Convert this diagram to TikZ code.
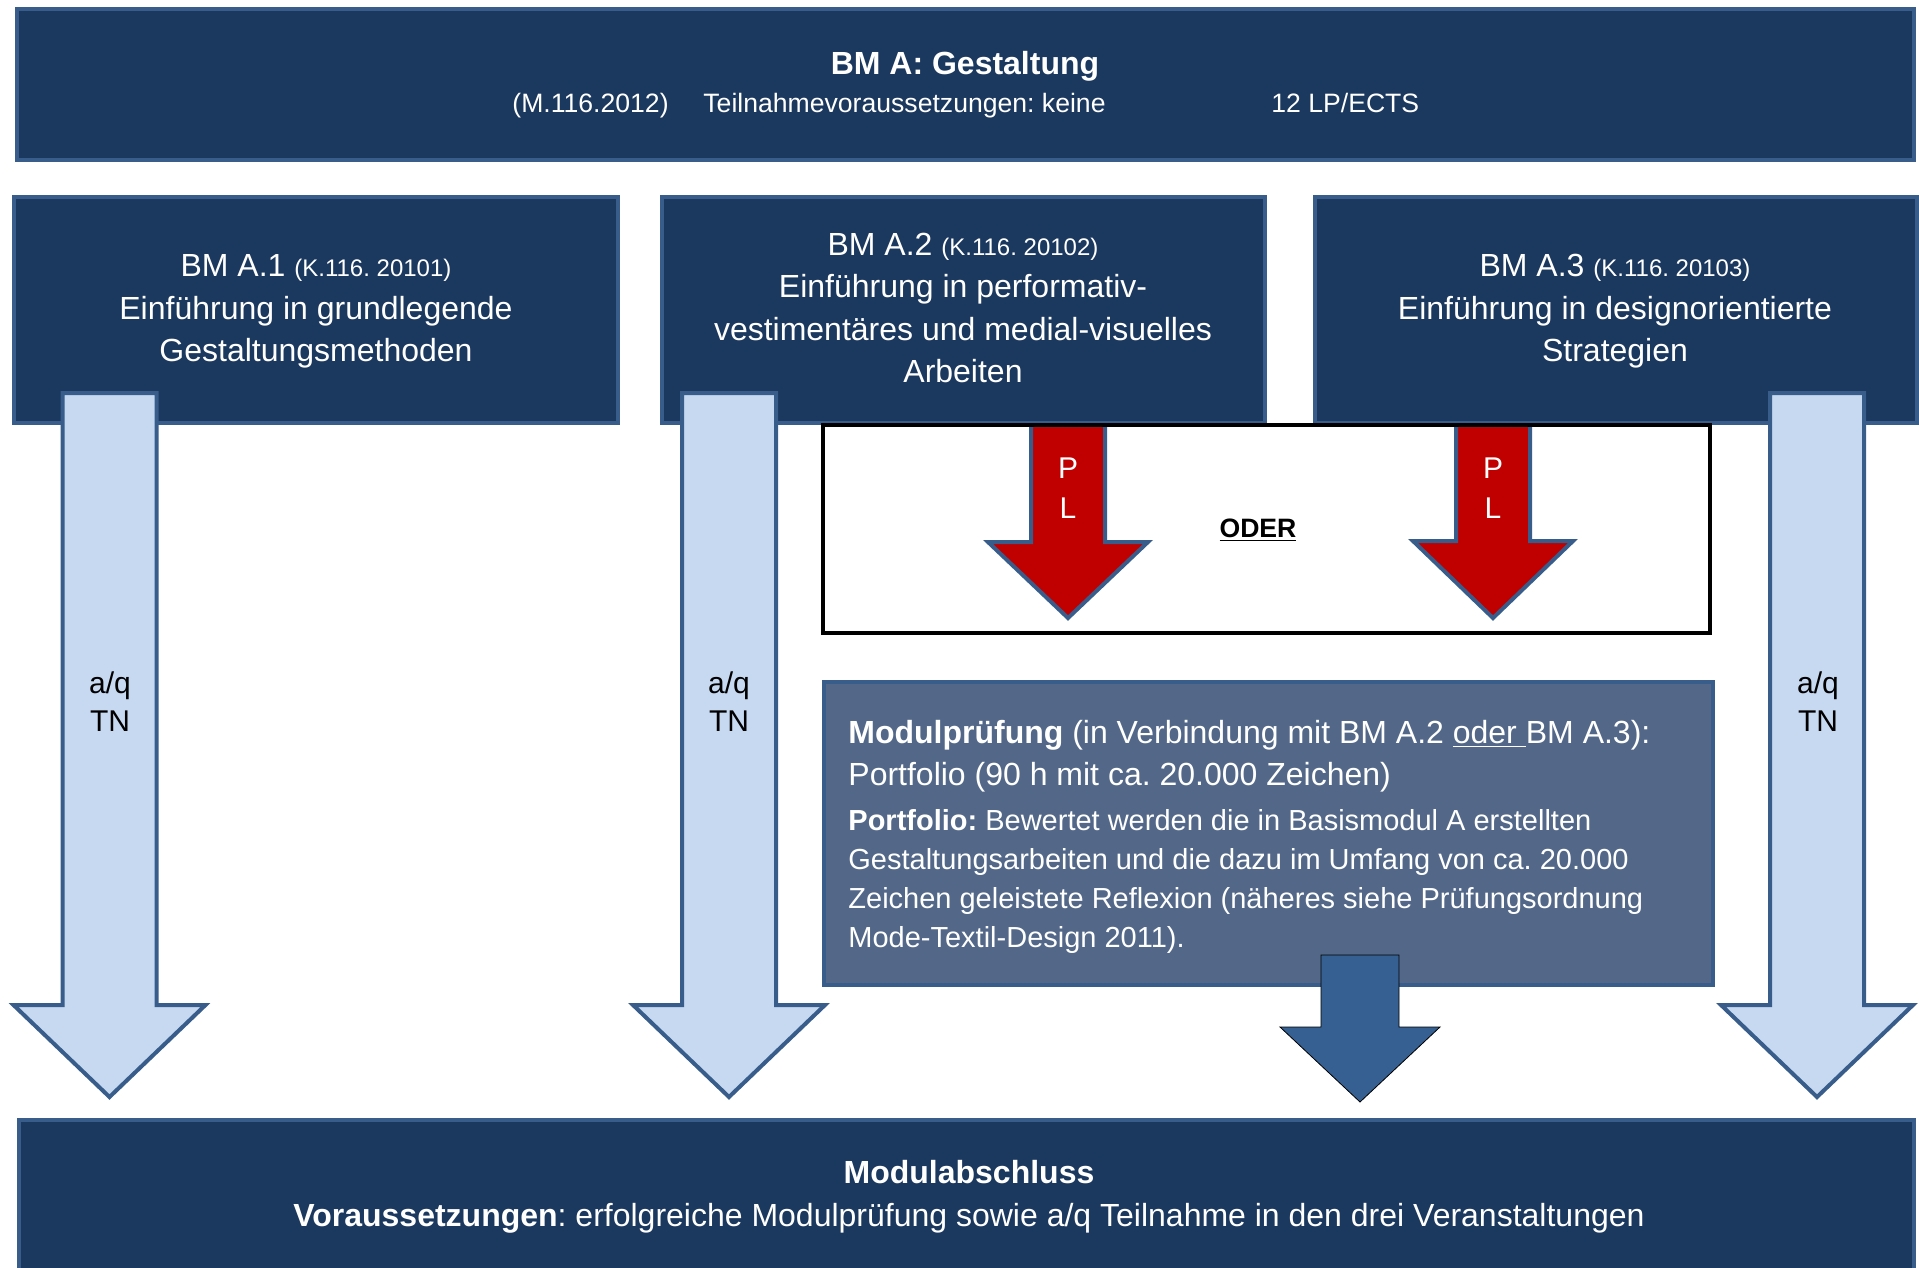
\documentclass[tikz,border=0pt]{standalone}
\usepackage{fontspec}
\setmainfont{Liberation Sans}
\usetikzlibrary{fit}
\frenchspacing
\definecolor{navy}{RGB}{27,56,94}
\definecolor{edgeblue}{RGB}{56,93,138}
\definecolor{palefill}{RGB}{198,217,241}
\definecolor{pdred}{RGB}{192,0,0}
\definecolor{slate}{RGB}{83,104,136}
\definecolor{arrowblue}{RGB}{54,96,146}
\newcommand\fsbig{\fontsize{16}{21}\selectfont}
\newcommand\fsmid{\fontsize{15}{19}\selectfont}
\newcommand\fstext{\fontsize{14.5}{19}\selectfont}
\newcommand\fshead{\fontsize{13.3}{17}\selectfont}
\newcommand\fscode{\fontsize{12}{15}\selectfont}
% style, tip name, cx, shaft half width, head half width, y top, y head, y tip
\newcommand\blockarrow[8]{%
  \draw[#1] ({#3-#4},#6) -- ({#3+#4},#6) -- ({#3+#4},#7) -- ({#3+#5},#7)
    -- (#3,#8) -- ({#3-#5},#7) -- ({#3-#4},#7) -- cycle;
  \coordinate (#2) at (#3,#8);}
\begin{document}
\frenchspacing
\begin{tikzpicture}[x=0.5pt,y=-0.5pt,
  navybox/.style={draw=edgeblue,line width=2pt,fill=navy,inner sep=0pt},
  slatebox/.style={draw=edgeblue,line width=2pt,fill=slate,inner sep=0pt},
  oderfill/.style={fill=white,inner sep=0pt},
  oderframe/.style={draw=black,line width=2pt},
  palearrow/.style={draw=edgeblue,line width=2pt,fill=palefill},
  redarrow/.style={draw=edgeblue,line width=2pt,fill=pdred},
  darkarrow/.style={fill=arrowblue},
  wtxt/.style={text=white,inner sep=0pt,anchor=base},
  wleft/.style={text=white,inner sep=0pt,anchor=base west},
  ktxt/.style={text=black,inner sep=0pt,anchor=base}]
\useasboundingbox (0,0) rectangle (1919,1268);

% boxes
\node[navybox,fit={(17,9)(1914,160)}] (top) {};
\node[navybox,fit={(14,197)(618,423)}] (a1) {};
\node[navybox,fit={(662,197)(1265,423)}] (a2) {};
\node[navybox,fit={(1315,197)(1917,423)}] (a3) {};

% ODER box with red PL arrows
\node[oderfill,fit={(823,425)(1710,633)}] (oder) {};
\blockarrow{redarrow}{pltipa}{1068}{37}{80}{425}{542}{618}
\blockarrow{redarrow}{pltipb}{1493}{37}{80}{425}{541}{618}
\draw[oderframe] (oder.north west) rectangle (oder.south east);

% pale TN arrows
\blockarrow{palearrow}{tna}{109.5}{47}{96}{393}{1005}{1097}
\blockarrow{palearrow}{tnb}{729}{47}{96}{393}{1005}{1097}
\blockarrow{palearrow}{tnc}{1817}{47}{96}{393}{1005}{1097}

% Modulpruefung box and arrow
\node[slatebox,fit={(824,682)(1713,985)}] (mp) {};
\blockarrow{darkarrow}{mptip}{1360}{39}{80}{955}{1027}{1102}

% bottom box
\node[navybox,fit={(19,1120)(1914,1290)}] (bottom) {};

% texts: top box
\node[wtxt,font=\fsbig\bfseries] (ttitle) at (965,75) {BM A: Gestaltung};
\node[wleft,font=\fshead] (tcode) at (512,113) {(M.116.2012)};
\node[wleft,font=\fshead] (tpre) at (703,113) {Teilnahmevoraussetzungen: keine};
\node[wleft,font=\fshead] (tlp) at (1271,113) {12 LP/ECTS};

% A.1
\node[wtxt,font=\fsbig] (a1l1) at (316,277) {BM A.1 {\fscode(K.116. 20101)}};
\node[wtxt,font=\fsbig] (a1l2) at (316,319) {Einführung in grundlegende};
\node[wtxt,font=\fsbig] (a1l3) at (316,361) {Gestaltungsmethoden};
% A.2
\node[wtxt,font=\fsbig] (a2l1) at (963,256) {BM A.2 {\fscode(K.116. 20102)}};
\node[wtxt,font=\fsbig] (a2l2) at (963,298) {Einführung in performativ-};
\node[wtxt,font=\fsbig] (a2l3) at (963,340) {vestimentäres und medial-visuelles};
\node[wtxt,font=\fsbig] (a2l4) at (963,382) {Arbeiten};
% A.3
\node[wtxt,font=\fsbig] (a3l1) at (1615,277) {BM A.3 {\fscode(K.116. 20103)}};
\node[wtxt,font=\fsbig] (a3l2) at (1615,319) {Einführung in designorientierte};
\node[wtxt,font=\fsbig] (a3l3) at (1615,361) {Strategien};

% arrow labels
\node[ktxt,font=\fsmid] (aqa) at (110,693) {a/q};
\node[ktxt,font=\fsmid] (tna1) at (110,731) {TN};
\node[ktxt,font=\fsmid] (aqb) at (729,693) {a/q};
\node[ktxt,font=\fsmid] (tnb1) at (729,731) {TN};
\node[ktxt,font=\fsmid] (aqc) at (1818,693) {a/q};
\node[ktxt,font=\fsmid] (tnc1) at (1818,731) {TN};

% PL labels
\node[wtxt,font=\fsmid] (pa) at (1068,478) {P};
\node[wtxt,font=\fsmid] (la) at (1068,518) {L};
\node[wtxt,font=\fsmid] (pb) at (1493,478) {P};
\node[wtxt,font=\fsmid] (lb) at (1493,518) {L};
\node[ktxt,font=\fshead\bfseries] (odertxt) at (1258,537) {\underline{ODER}};

% Modulpruefung text
\node[wleft,font=\fsbig] (mp1) at (848,743) {\textbf{Modulprüfung} (in Verbindung mit BM A.2 \underline{oder\ }BM A.3):};
\node[wleft,font=\fsbig] (mp2) at (848,785) {Portfolio (90 h mit ca. 20.000 Zeichen)};
\node[wleft,font=\fstext] (mp3) at (848,830) {\textbf{Portfolio:} Bewertet werden die in Basismodul A erstellten};
\node[wleft,font=\fstext] (mp4) at (848,869) {Gestaltungsarbeiten und die dazu im Umfang von ca. 20.000};
\node[wleft,font=\fstext] (mp5) at (848,908) {Zeichen geleistete Reflexion (näheres siehe Prüfungsordnung};
\node[wleft,font=\fstext] (mp6) at (848,947) {Mode-Textil-Design 2011).};

% bottom text
\node[wtxt,font=\fsbig\bfseries] (bt1) at (969,1183) {Modulabschluss};
\node[wtxt,font=\fsbig] (bt2) at (969,1226) {\textbf{Voraussetzungen}: erfolgreiche Modulprüfung sowie a/q Teilnahme in den drei Veranstaltungen};
\end{tikzpicture}
\end{document}
